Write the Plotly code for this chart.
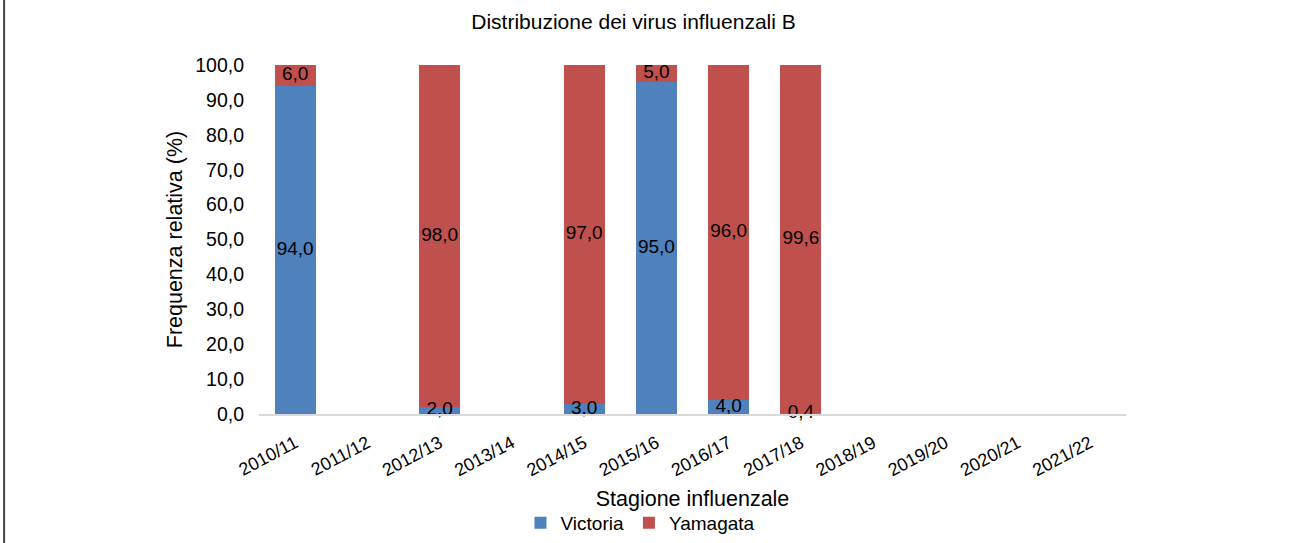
import plotly.graph_objects as go

# Stagioni e percentuali (None = nessun dato)
seasons = ["2010/11", "2011/12", "2012/13", "2013/14", "2014/15", "2015/16",
           "2016/17", "2017/18", "2018/19", "2019/20", "2020/21", "2021/22"]
victoria = [94.0, None, 2.0, None, 3.0, 95.0, 4.0, 0.4, None, None, None, None]
yamagata = [6.0, None, 98.0, None, 97.0, 5.0, 96.0, 99.6, None, None, None, None]

font = "Liberation Sans, Arial, sans-serif"


def fmt(v):
    return "" if v is None else f"{v:.1f}".replace(".", ",")


fig = go.Figure()
fig.add_trace(go.Bar(x=seasons, y=victoria, name="Victoria",
                     marker=dict(color="#4F81BD", line=dict(width=0))))
fig.add_trace(go.Bar(x=seasons, y=yamagata, name="Yamagata",
                     marker=dict(color="#C0504D", line=dict(width=0))))

# etichette centrate su ciascun segmento
vic_mid = [None if v is None else v / 2 for v in victoria]
yam_mid = [None if y is None else v + y / 2 for v, y in zip(victoria, yamagata)]
for mids, vals in [(vic_mid, victoria), (yam_mid, yamagata)]:
    fig.add_trace(go.Scatter(
        x=seasons, y=mids, mode="text", text=[fmt(v) for v in vals],
        textposition="middle center", textfont=dict(color="black", size=19),
        cliponaxis=False, showlegend=False, hoverinfo="skip",
    ))

fig.update_layout(
    barmode="stack",
    bargap=0.43,
    separators=",.",
    width=1299, height=543,
    margin=dict(l=259, r=173, t=65, b=129, autoexpand=False),
    paper_bgcolor="white", plot_bgcolor="white",
    font=dict(family=font, size=19, color="black"),
    title=dict(text="Distribuzione dei virus influenzali B", x=0.4877, xanchor="center",
               y=0.961, yanchor="middle", font=dict(size=21)),
    legend=dict(orientation="h", x=0.44, xanchor="center", y=-0.312, yanchor="middle",
                font=dict(size=19), traceorder="normal"),
    showlegend=True,
)
fig.update_xaxes(
    type="category", range=[-0.5, len(seasons) - 0.5], tickangle=-28,
    showgrid=False, automargin=False,
    showline=True, linecolor="#D9D9D9", linewidth=1.5,
    tickfont=dict(size=18), ticklabelstandoff=10,
    title=dict(text="Stagione influenzale", font=dict(size=21.5), standoff=12),
)
fig.update_yaxes(
    range=[0, 100], dtick=10, tickformat=".1f", showgrid=False, zeroline=False,
    showline=False, tickfont=dict(size=19.5), ticklabelstandoff=14, automargin=False,
    title=dict(text="Frequenza relativa (%)", font=dict(size=21.5), standoff=6),
)

# bordo sinistro dell'immagine
fig.add_shape(type="line", xref="paper", yref="paper",
              x0=-0.294, x1=-0.294, y0=-0.4, y1=1.2,
              line=dict(color="#444444", width=2))

fig.write_html("out.html", config={"displayModeBar": False},
               post_script="document.body.style.margin='0';")
